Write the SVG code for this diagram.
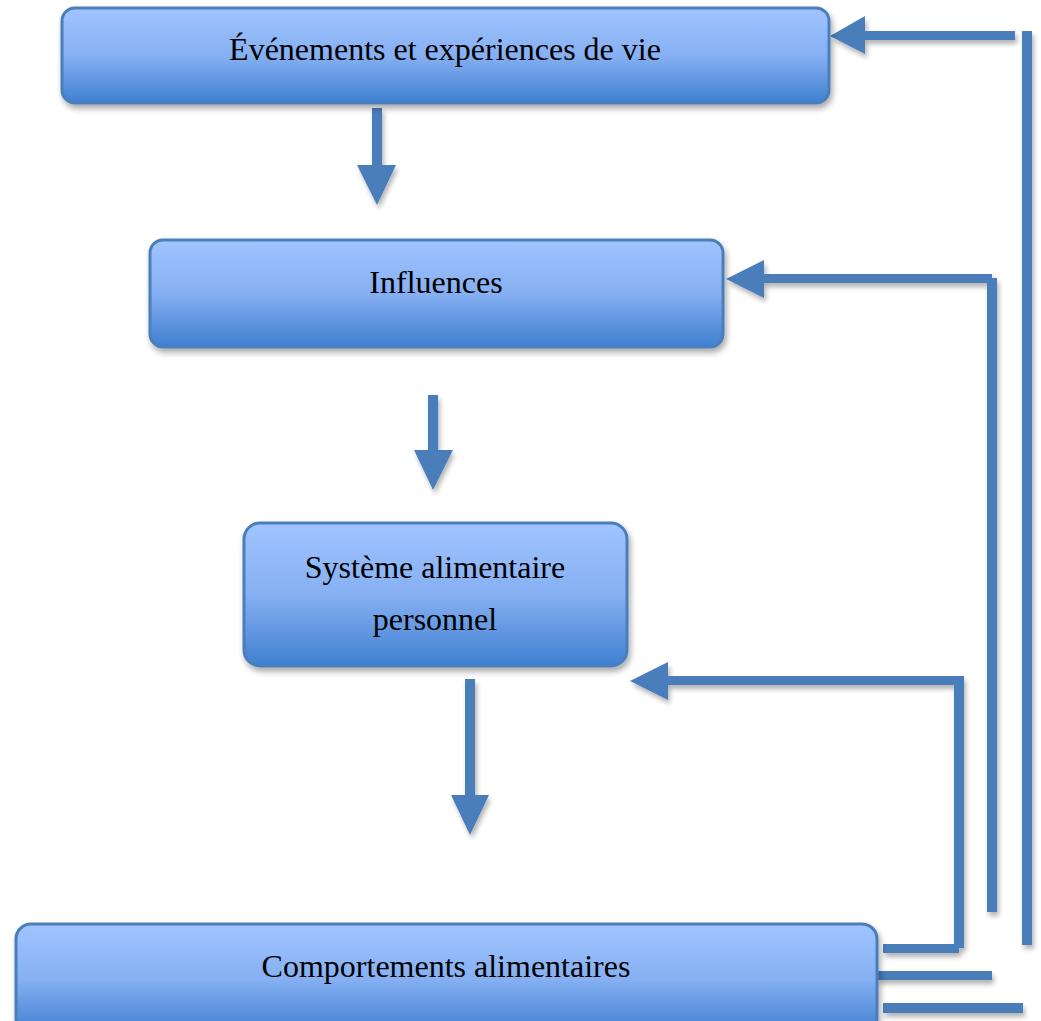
<svg xmlns="http://www.w3.org/2000/svg" width="1041" height="1021" viewBox="0 0 1041 1021">
<defs>
<linearGradient id="g" x1="0" y1="0" x2="0" y2="1">
<stop offset="0" stop-color="#a0c4ff"/>
<stop offset="0.5" stop-color="#86b0f2"/>
<stop offset="1" stop-color="#3f7fd0"/>
</linearGradient>
<filter id="sh" x="-20%" y="-20%" width="140%" height="160%">
<feGaussianBlur in="SourceAlpha" stdDeviation="3"/>
<feOffset dx="2" dy="4" result="b"/>
<feComponentTransfer><feFuncA type="linear" slope="0.35"/></feComponentTransfer>
<feMerge><feMergeNode/><feMergeNode in="SourceGraphic"/></feMerge>
</filter>
<filter id="lsh" x="-10%" y="-10%" width="120%" height="120%">
<feGaussianBlur in="SourceAlpha" stdDeviation="2.5"/>
<feOffset dx="2" dy="4"/>
<feComponentTransfer><feFuncA type="linear" slope="0.3"/></feComponentTransfer>
<feMerge><feMergeNode/><feMergeNode in="SourceGraphic"/></feMerge>
</filter>
</defs>
<style>
.box{fill:url(#g);stroke:#4a7ebb;stroke-width:3;filter:url(#sh)}
.t{font-family:"Liberation Serif","Times New Roman",serif;font-size:32px;fill:#000;text-anchor:middle}
.c{fill:#4a7ebb}
</style>
<g id="connectors" filter="url(#lsh)">
<polygon class="c" points="372,108 382,108 382,165 396,165 377,205 357,165 372,165"/>
<polygon class="c" points="428,395 438,395 438,450 453,450 433,490 414,450 428,450"/>
<polygon class="c" points="465,679 475,679 475,795 489,795 470,835 451,795 465,795"/>
<rect class="c" x="1022" y="31" width="10" height="914"/>
<rect class="c" x="864" y="31" width="151" height="9"/>
<polygon class="c" points="830,36 865,16 865,54"/>
<rect class="c" x="883" y="1003" width="140" height="10"/>
<rect class="c" x="987" y="278" width="10" height="634"/>
<rect class="c" x="763" y="274" width="229" height="9"/>
<polygon class="c" points="726,279 764,260 764,298"/>
<rect class="c" x="877" y="971" width="115" height="9"/>
<rect class="c" x="954" y="680" width="10" height="268"/>
<rect class="c" x="667" y="676" width="297" height="9"/>
<polygon class="c" points="630,681 668,662 668,700"/>
<rect class="c" x="883" y="944" width="76" height="9"/>
</g>
<g id="node1">
<rect class="box" x="62" y="8" width="767" height="95" rx="13"/>
<text class="t" x="445" y="60">Événements et expériences de vie</text>
</g>
<g id="node2">
<rect class="box" x="150" y="240" width="573" height="107" rx="13"/>
<text class="t" x="436" y="293">Influences</text>
</g>
<g id="node3">
<rect class="box" x="244" y="523" width="383" height="143" rx="16"/>
<text class="t" x="435" y="578">Système alimentaire</text>
<text class="t" x="435" y="630">personnel</text>
</g>
<g id="node4">
<rect class="box" x="16" y="924" width="861" height="110" rx="15"/>
<text class="t" x="446" y="977">Comportements alimentaires</text>
</g>
</svg>
